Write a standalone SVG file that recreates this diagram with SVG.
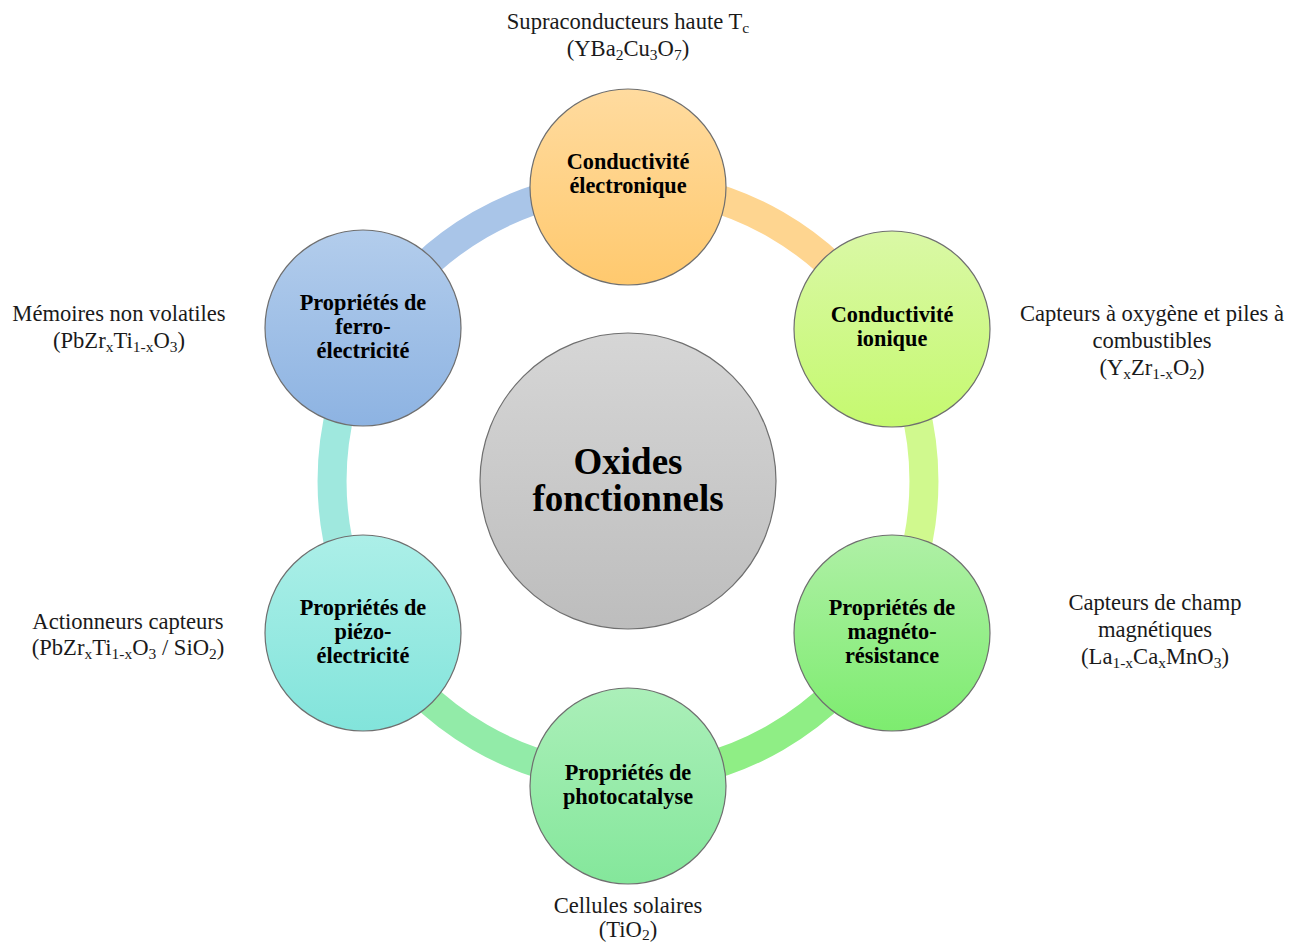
<svg xmlns="http://www.w3.org/2000/svg" width="1302" height="944" viewBox="0 0 1302 944">
<style>
.node{stroke:#6f6f6f;stroke-width:1.2}
.lbl{font-family:"Liberation Serif","Times New Roman",serif;font-weight:bold;font-size:22.3px;fill:#000;text-anchor:middle}
.big{font-family:"Liberation Serif","Times New Roman",serif;font-weight:bold;font-size:37px;fill:#000;text-anchor:middle}
.app{font-family:"Liberation Serif","Times New Roman",serif;font-size:22.6px;fill:#1a1a1a;text-anchor:middle}
.sub{font-size:15.5px}
.arc{fill:none;stroke-width:29}
</style>
<defs>
<linearGradient id="gTop" x1="0" y1="0" x2="0" y2="1"><stop offset="0" stop-color="#ffdb9f"/><stop offset="1" stop-color="#ffc96e"/></linearGradient>
<linearGradient id="gUR" x1="0" y1="0" x2="0" y2="1"><stop offset="0" stop-color="#daf8a6"/><stop offset="1" stop-color="#c5f96f"/></linearGradient>
<linearGradient id="gLR" x1="0" y1="0" x2="0" y2="1"><stop offset="0" stop-color="#aff0a6"/><stop offset="1" stop-color="#7dec6f"/></linearGradient>
<linearGradient id="gBot" x1="0" y1="0" x2="0" y2="1"><stop offset="0" stop-color="#abefb9"/><stop offset="1" stop-color="#84e79b"/></linearGradient>
<linearGradient id="gLL" x1="0" y1="0" x2="0" y2="1"><stop offset="0" stop-color="#acefe8"/><stop offset="1" stop-color="#82e4db"/></linearGradient>
<linearGradient id="gUL" x1="0" y1="0" x2="0" y2="1"><stop offset="0" stop-color="#b3cdec"/><stop offset="1" stop-color="#8db3e2"/></linearGradient>
<linearGradient id="gC" x1="0" y1="0" x2="0" y2="1"><stop offset="0" stop-color="#d6d6d6"/><stop offset="1" stop-color="#bdbdbd"/></linearGradient>
</defs>
<rect width="1302" height="944" fill="#fff"/>
<g id="connectors">
<path class="arc" stroke="#fed590" d="M628 185 A296 296 0 0 1 884.3 333"/>
<path class="arc" stroke="#d0f98e" d="M884.3 333 A296 296 0 0 1 884.3 629"/>
<path class="arc" stroke="#8fee85" d="M884.3 629 A296 296 0 0 1 628 777"/>
<path class="arc" stroke="#92eba8" d="M628 777 A296 296 0 0 1 371.7 629"/>
<path class="arc" stroke="#9fe8de" d="M371.7 629 A296 296 0 0 1 371.7 333"/>
<path class="arc" stroke="#a9c5e8" d="M371.7 333 A296 296 0 0 1 628 185"/>
</g>
<g id="center">
<circle class="node" cx="628" cy="481" r="148" fill="url(#gC)"/>
<text class="big" x="628" y="474">Oxides</text>
<text class="big" x="628" y="511">fonctionnels</text>
</g>
<g id="node-top">
<circle class="node" cx="628" cy="187" r="98" fill="url(#gTop)"/>
<text class="lbl" x="628" y="169">Conductivité</text>
<text class="lbl" x="628" y="193">électronique</text>
</g>
<g id="node-ur">
<circle class="node" cx="892" cy="329" r="98" fill="url(#gUR)"/>
<text class="lbl" x="892" y="322">Conductivité</text>
<text class="lbl" x="892" y="346">ionique</text>
</g>
<g id="node-lr">
<circle class="node" cx="892" cy="633" r="98" fill="url(#gLR)"/>
<text class="lbl" x="892" y="615">Propriétés de</text>
<text class="lbl" x="892" y="639">magnéto-</text>
<text class="lbl" x="892" y="663">résistance</text>
</g>
<g id="node-bottom">
<circle class="node" cx="628" cy="786" r="98" fill="url(#gBot)"/>
<text class="lbl" x="628" y="780">Propriétés de</text>
<text class="lbl" x="628" y="804">photocatalyse</text>
</g>
<g id="node-ll">
<circle class="node" cx="363" cy="633" r="98" fill="url(#gLL)"/>
<text class="lbl" x="363" y="615">Propriétés de</text>
<text class="lbl" x="363" y="639">piézo-</text>
<text class="lbl" x="363" y="663">électricité</text>
</g>
<g id="node-ul">
<circle class="node" cx="363" cy="328" r="98" fill="url(#gUL)"/>
<text class="lbl" x="363" y="310">Propriétés de</text>
<text class="lbl" x="363" y="334">ferro-</text>
<text class="lbl" x="363" y="358">électricité</text>
</g>
<g id="labels">
<text class="app" x="628" y="29">Supraconducteurs haute T<tspan class="sub" dy="4">c</tspan></text>
<text class="app" x="628" y="56">(YBa<tspan class="sub" dy="4">2</tspan><tspan dy="-4">Cu</tspan><tspan class="sub" dy="4">3</tspan><tspan dy="-4">O</tspan><tspan class="sub" dy="4">7</tspan><tspan dy="-4">)</tspan></text>
<text class="app" x="119" y="321">Mémoires non volatiles</text>
<text class="app" x="119" y="348">(PbZr<tspan class="sub" dy="4">x</tspan><tspan dy="-4">Ti</tspan><tspan class="sub" dy="4">1-x</tspan><tspan dy="-4">O</tspan><tspan class="sub" dy="4">3</tspan><tspan dy="-4">)</tspan></text>
<text class="app" x="1152" y="321">Capteurs à oxygène et piles à</text>
<text class="app" x="1152" y="348">combustibles</text>
<text class="app" x="1152" y="375">(Y<tspan class="sub" dy="4">x</tspan><tspan dy="-4">Zr</tspan><tspan class="sub" dy="4">1-x</tspan><tspan dy="-4">O</tspan><tspan class="sub" dy="4">2</tspan><tspan dy="-4">)</tspan></text>
<text class="app" x="128" y="629">Actionneurs capteurs</text>
<text class="app" x="128" y="655">(PbZr<tspan class="sub" dy="4">x</tspan><tspan dy="-4">Ti</tspan><tspan class="sub" dy="4">1-x</tspan><tspan dy="-4">O</tspan><tspan class="sub" dy="4">3</tspan><tspan dy="-4"> / SiO</tspan><tspan class="sub" dy="4">2</tspan><tspan dy="-4">)</tspan></text>
<text class="app" x="1155" y="610">Capteurs de champ</text>
<text class="app" x="1155" y="637">magnétiques</text>
<text class="app" x="1155" y="664">(La<tspan class="sub" dy="4">1-x</tspan><tspan dy="-4">Ca</tspan><tspan class="sub" dy="4">x</tspan><tspan dy="-4">MnO</tspan><tspan class="sub" dy="4">3</tspan><tspan dy="-4">)</tspan></text>
<text class="app" x="628" y="913">Cellules solaires</text>
<text class="app" x="628" y="937">(TiO<tspan class="sub" dy="3">2</tspan><tspan dy="-3">)</tspan></text>
</g>
</svg>
